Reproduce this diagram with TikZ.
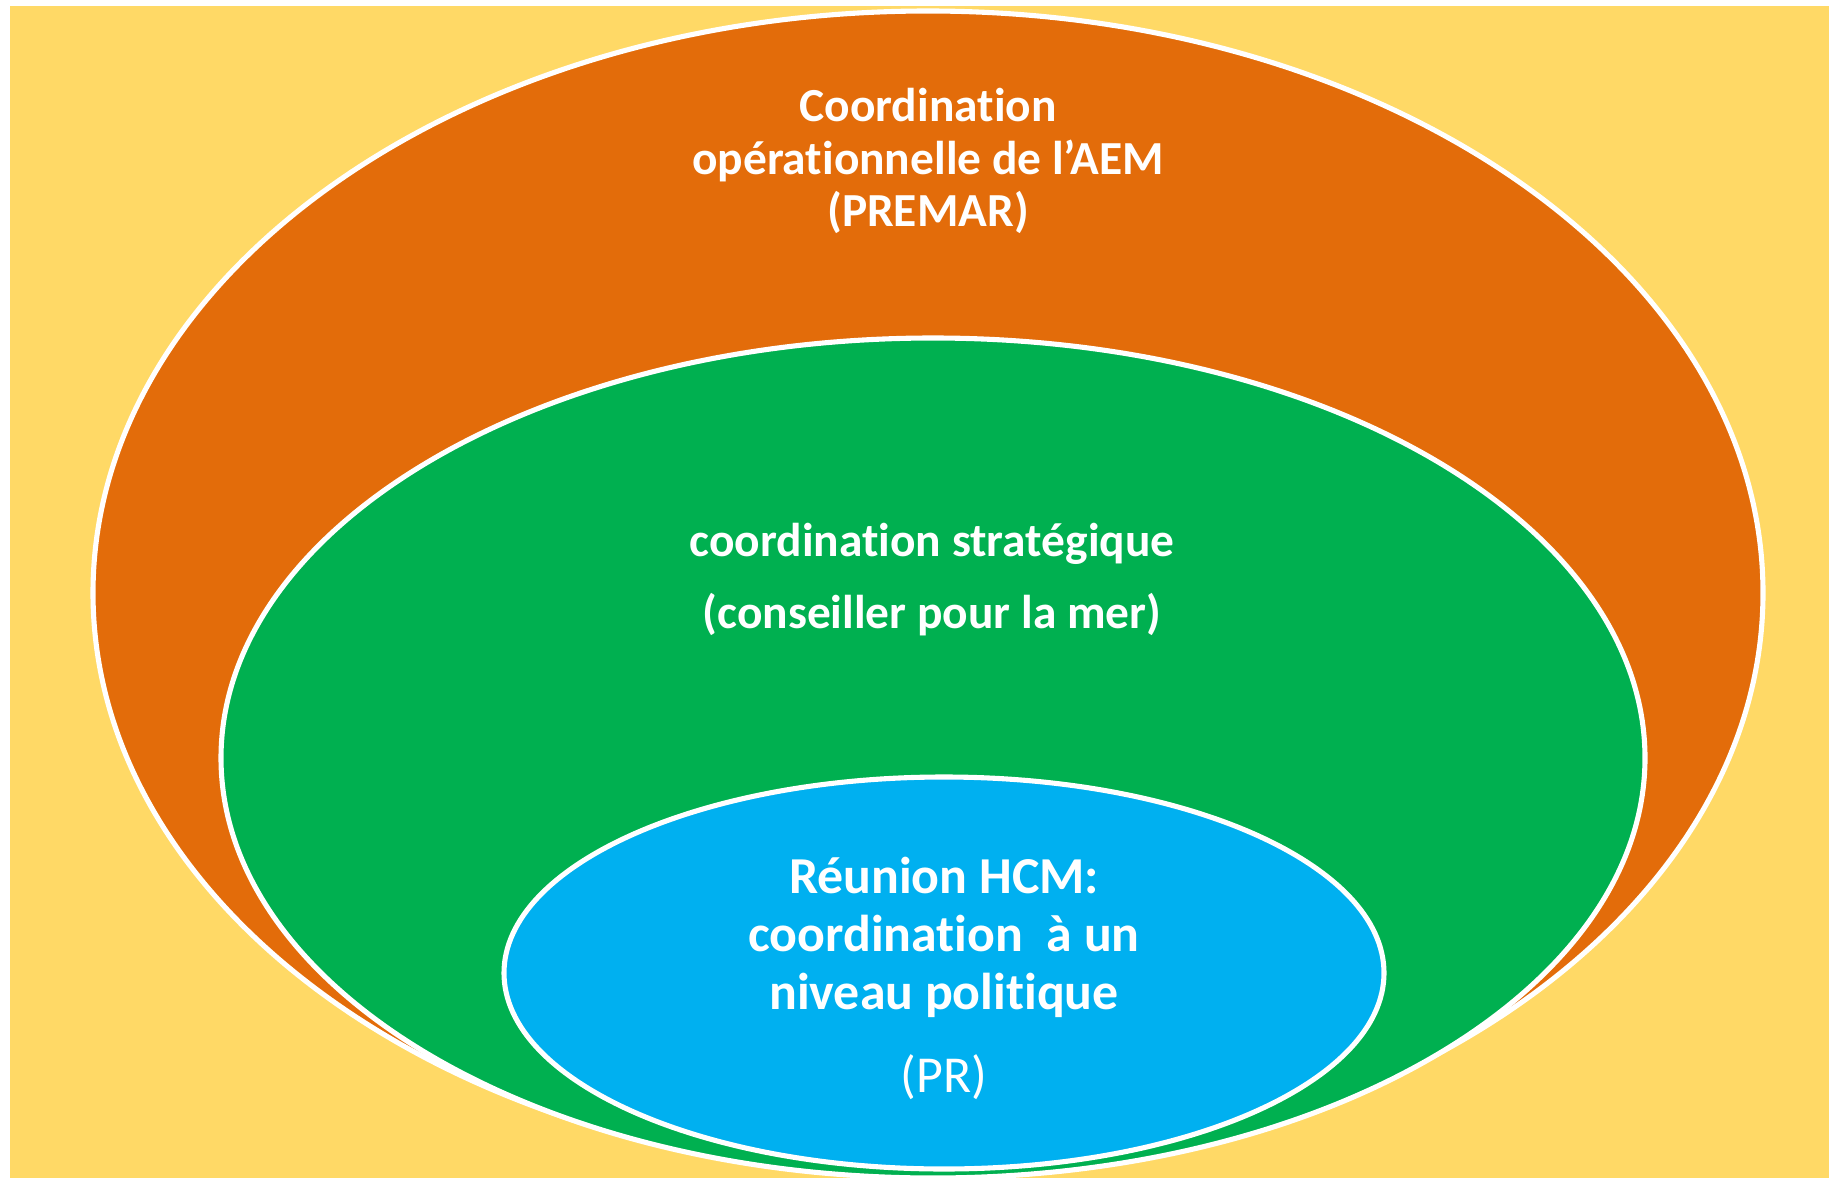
\documentclass[tikz,border=0pt]{standalone}
\usepackage{fontspec}
\setmainfont[Ligatures=NoCommon]{Carlito}
\usepackage{xcolor}
\usepackage{tikz}
\definecolor{sand}{HTML}{FFD966}
\definecolor{rust}{HTML}{E36C0A}
\definecolor{leaf}{HTML}{00B050}
\definecolor{sky}{HTML}{00B0F0}

\begin{document}
\begin{tikzpicture}[x=0.02cm, y=-0.02cm]
\tikzstyle{ring} = [draw=white, line width=2.9pt]
\tikzstyle{ringtext} = [text=white, align=center, inner sep=0pt]

% Background
\useasboundingbox (0,0) rectangle (1829,1179);
\fill[sand] (10,6) rectangle (1829,1178);

% Nested levels
\draw[ring, fill=rust] (928,593) ellipse [x radius=835, y radius=582];
\draw[ring, fill=leaf] (933,758) ellipse [x radius=712, y radius=420];
\draw[ring, fill=sky] (944,973) ellipse [x radius=440, y radius=196];

% Texts
\node[ringtext, font=\bfseries\fontsize{27}{30}\selectfont] (operational) at (928,161) {Coordination\\op\'erationnelle de l’AEM\\(PREMAR)};
\node[ringtext, font=\bfseries\fontsize{27}{41}\selectfont] (strategic) at (932,580) {coordination strat\'egique\\(conseiller pour la mer)};
\node[ringtext, font=\bfseries\fontsize{29.5}{33}\selectfont] (political) at (944,937) {R\'eunion HCM:\\coordination\ \ \`a un\\niveau politique};
\node[ringtext, font=\fontsize{29.5}{33}\selectfont] (pr) at (944,1077) {(PR)};
\end{tikzpicture}
\end{document}
